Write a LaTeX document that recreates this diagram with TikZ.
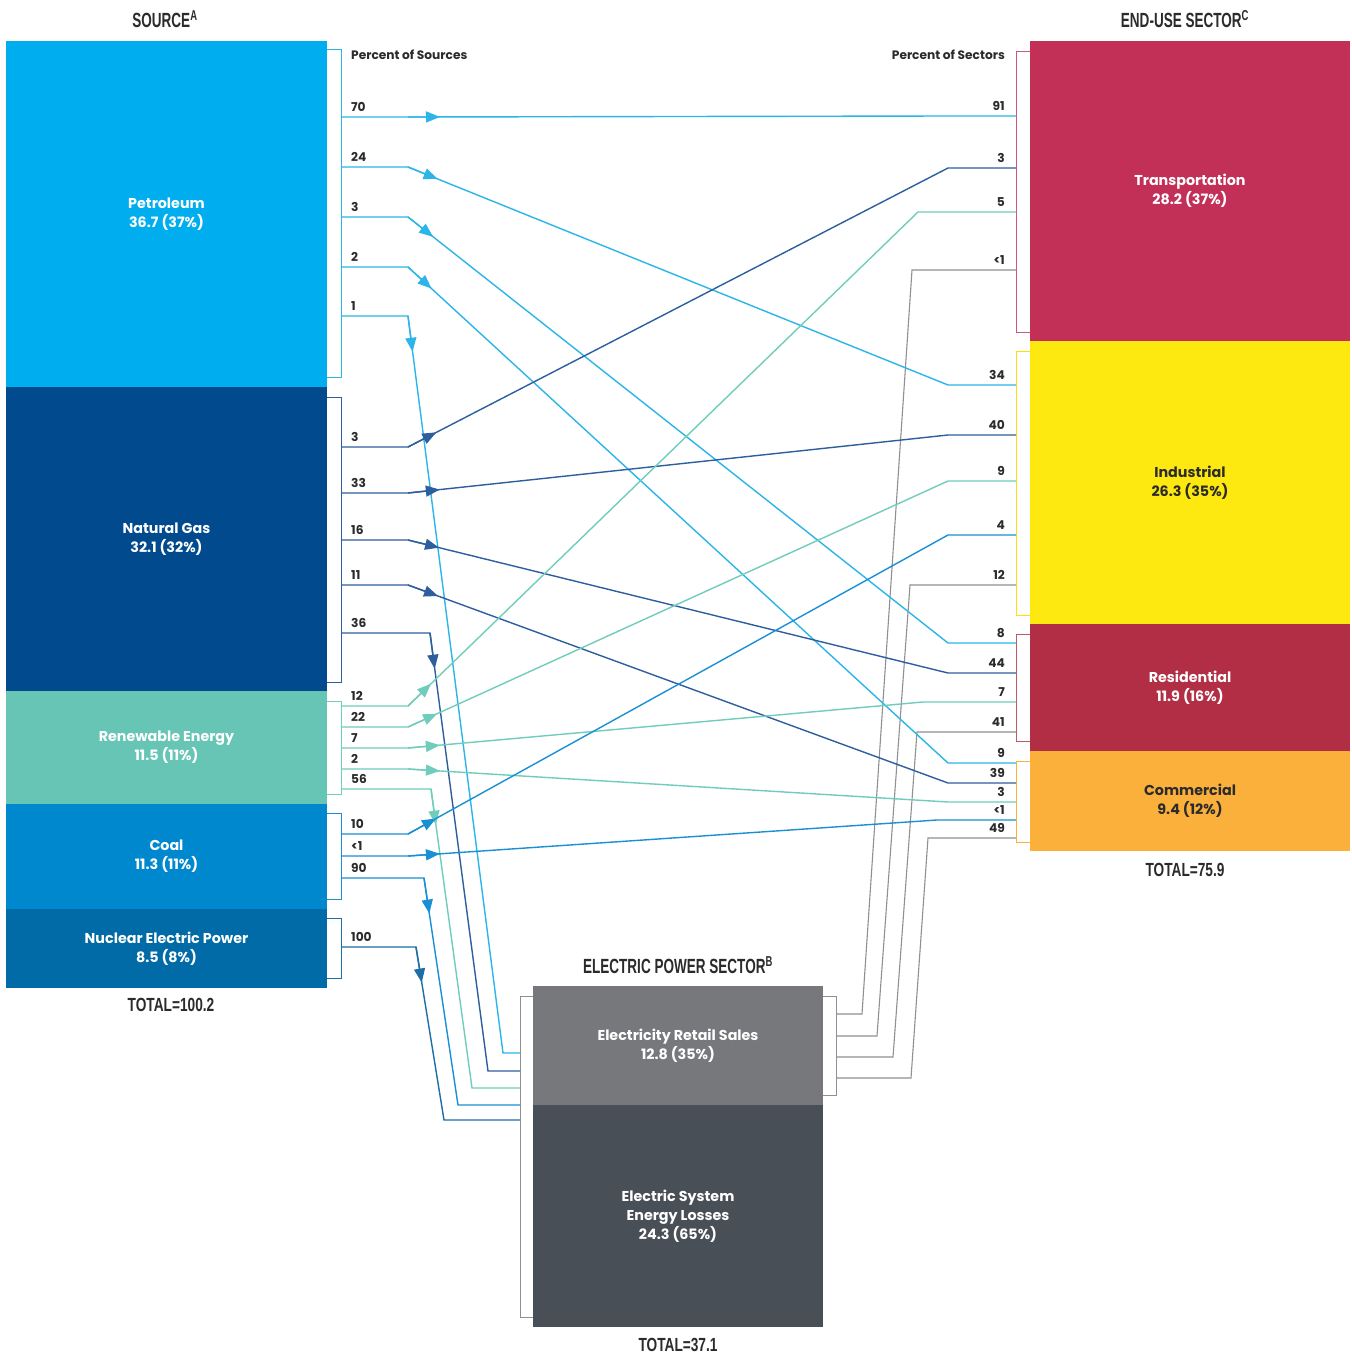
\documentclass[tikz,border=0pt]{standalone}
\usepackage{fontspec}
\setmainfont{Poppins}
\newfontfamily\condfont[FakeStretch=0.66]{Liberation Sans}
\newfontfamily\totfont[FakeStretch=0.72]{Liberation Sans}
\usetikzlibrary{arrows.meta,calc}
\definecolor{cPe}{HTML}{00AEEF}
\definecolor{cNG}{HTML}{004A8D}
\definecolor{cRE}{HTML}{66C5B4}
\definecolor{cCo}{HTML}{0088CF}
\definecolor{cNu}{HTML}{006BA6}
\definecolor{cTr}{HTML}{C22F57}
\definecolor{cIn}{HTML}{FDE80F}
\definecolor{cRs}{HTML}{B12E44}
\definecolor{cCm}{HTML}{FBB03B}
\definecolor{cRt}{HTML}{76787B}
\definecolor{cLs}{HTML}{494F57}
\definecolor{lPe}{HTML}{2BB5E8}
\definecolor{lNG}{HTML}{2D5E9E}
\definecolor{lRE}{HTML}{70CDBB}
\definecolor{lCo}{HTML}{1B8FD3}
\definecolor{lNu}{HTML}{1D6EA6}
\definecolor{lEl}{HTML}{8E9093}
\definecolor{txt}{HTML}{2B2B2B}
\tikzset{
 blk/.style={rectangle, inner sep=0pt, outer sep=0pt, anchor=north west, align=center, text=white, font=\bfseries\fontsize{14.3}{19}\selectfont},
 flw/.style={line width=1.4pt},
 arr/.style={-{Triangle[length=14pt,width=11pt]}},
 numl/.style={font=\bfseries\fontsize{12.2}{13}\selectfont, inner sep=0pt, text=txt},
 brk/.style={line width=0.9pt},
 ttl/.style={font=\condfont\bfseries\fontsize{20.5}{22}\selectfont, text=txt, inner sep=0pt},
 tot/.style={font=\totfont\bfseries\fontsize{19}{21}\selectfont, text=txt, inner sep=0pt},
}
\newcommand\flow[7]{%
  \coordinate (#2s) at (341,#3);
  \coordinate (#2a) at (408,#3);
  \coordinate (#2b) at (#4,#5);
  \coordinate (#2e) at (1016,#5);
  \draw[flw,#1] (#2s) -- (#2a) -- (#2b) -- (#2e);
  \draw[flw,#1,arr] (#2a) -- ($(#2a)!32pt!(#2b)$);
  \node[numl,anchor=base west] at (351,#3-6) {#6};
  \node[numl,anchor=base east] at (1005,#5-6) {#7};
}
\newcommand\down[7]{%
  \coordinate (#2s) at (341,#3);
  \coordinate (#2a) at (#4,#3);
  \coordinate (#2b) at (#6,#5);
  \coordinate (#2e) at (520,#5);
  \draw[flw,#1] (#2s) -- (#2a) -- (#2b) -- (#2e);
  \draw[flw,#1,arr] (#2a) -- ($(#2a)!36pt!(#2b)$);
  \node[numl,anchor=base west] at (351,#3-6) {#7};
}
\newcommand\elec[6]{%
  \coordinate (#1s) at (836,#2);
  \coordinate (#1a) at (#3,#2);
  \coordinate (#1b) at (#4,#5);
  \coordinate (#1e) at (1016,#5);
  \draw[line width=1.1pt,lEl] (#1s) -- (#1a) -- (#1b) -- (#1e);
  \node[numl,anchor=base east] at (1005,#5-6) {#6};
}
\begin{document}
\begin{tikzpicture}[x=1pt,y=-1pt]
\useasboundingbox[fill=white] (0,0) rectangle (1352,1358);
% titles
\node[ttl] (tsrc) at (165,19) {SOURCE\textsuperscript{A}};
\node[ttl] (tend) at (1185,19) {END-USE SECTOR\textsuperscript{C}};
\node[ttl] (teps) at (678,965) {ELECTRIC POWER SECTOR\textsuperscript{B}};
% source blocks
\node[blk,fill=cPe,minimum width=321pt,minimum height=346pt] (petro) at (6,41) {Petroleum\\36.7 (37\%)};
\node[blk,fill=cNG,minimum width=321pt,minimum height=304pt] (ngas) at (6,387) {Natural Gas\\32.1 (32\%)};
\node[blk,fill=cRE,minimum width=321pt,minimum height=113pt] (renew) at (6,691) {Renewable Energy\\11.5 (11\%)};
\node[blk,fill=cCo,minimum width=321pt,minimum height=105pt] (coal) at (6,804) {Coal\\11.3 (11\%)};
\node[blk,fill=cNu,minimum width=321pt,minimum height=79pt] (nuc) at (6,909) {Nuclear Electric Power\\8.5 (8\%)};
\node[tot] (tots) at (171,1005) {TOTAL=100.2};
% end-use blocks
\node[blk,fill=cTr,minimum width=320pt,minimum height=300pt] (trans) at (1030,41) {Transportation\\28.2 (37\%)};
\node[blk,fill=cIn,minimum width=320pt,minimum height=283pt,text=txt] (ind) at (1030,341) {Industrial\\26.3 (35\%)};
\node[blk,fill=cRs,minimum width=320pt,minimum height=127pt] (res) at (1030,624) {Residential\\11.9 (16\%)};
\node[blk,fill=cCm,minimum width=320pt,minimum height=100pt,text=txt] (com) at (1030,751) {Commercial\\9.4 (12\%)};
\node[tot] (tote) at (1185,870) {TOTAL=75.9};
% electric power sector
\node[blk,fill=cRt,minimum width=290pt,minimum height=119pt] (retail) at (533,986) {Electricity Retail Sales\\12.8 (35\%)};
\node[blk,fill=cLs,minimum width=290pt,minimum height=222pt] (loss) at (533,1105) {Electric System\\Energy Losses\\24.3 (65\%)};
\node[tot] (totp) at (678,1345) {TOTAL=37.1};
% brackets
\draw[brk,lPe] (327,49) -- (341,49) -- (341,377) -- (327,377);
\draw[brk,lNG] (327,397) -- (341,397) -- (341,682) -- (327,682);
\draw[brk,lRE] (327,701) -- (341,701) -- (341,794) -- (327,794);
\draw[brk,lCo] (327,813) -- (341,813) -- (341,899) -- (327,899);
\draw[brk,lNu] (327,918) -- (341,918) -- (341,978) -- (327,978);
\draw[brk,cTr!80!white] (1030,51) -- (1016,51) -- (1016,332) -- (1030,332);
\draw[brk,cIn!90!orange] (1030,351) -- (1016,351) -- (1016,615) -- (1030,615);
\draw[brk,cRs!80!white] (1030,634) -- (1016,634) -- (1016,741) -- (1030,741);
\draw[brk,cCm] (1030,761) -- (1016,761) -- (1016,842) -- (1030,842);
\draw[brk,lEl] (533,996) -- (520,996) -- (520,1317) -- (533,1317);
\draw[brk,lEl] (823,996) -- (836,996) -- (836,1095) -- (823,1095);
% headers
\node[numl,anchor=base west] (psrc) at (351,59) {Percent of Sources};
\node[numl,anchor=base east] (psec) at (1005,59) {Percent of Sectors};
% electricity flows
\elec{eT}{1014}{862}{912}{270}{<1}
\elec{eI}{1036}{877}{910}{585}{12}
\elec{eR}{1057}{893}{917}{732}{41}
\elec{eC}{1078}{911}{928}{838}{49}
% petroleum
\flow{lPe}{pT}{117}{948}{116}{70}{91}
\flow{lPe}{pI}{167}{948}{385}{24}{34}
\flow{lPe}{pR}{217}{948}{643}{3}{8}
\flow{lPe}{pC}{267}{948}{763}{2}{9}
\down{lPe}{pE}{316}{408}{1053}{503}{1}
% natural gas
\flow{lNG}{gT}{447}{948}{168}{3}{3}
\flow{lNG}{gI}{493}{948}{435}{33}{40}
\flow{lNG}{gR}{540}{948}{673}{16}{44}
\flow{lNG}{gC}{585}{948}{783}{11}{39}
\down{lNG}{gE}{633}{430}{1071}{488}{36}
% renewable
\flow{lRE}{rT}{706}{918}{212}{12}{5}
\flow{lRE}{rI}{727}{948}{481}{22}{9}
\flow{lRE}{rR}{748}{923}{702}{7}{7}
\flow{lRE}{rC}{769}{948}{802}{2}{3}
\down{lRE}{rE}{789}{431}{1088}{472}{56}
% coal
\flow{lCo}{kI}{834}{948}{535}{10}{4}
\flow{lCo}{kC}{856}{937}{820}{<1}{<1}
\down{lCo}{kE}{878}{424}{1105}{458}{90}
% nuclear
\down{lNu}{nE}{947}{416}{1120}{444}{100}
\end{tikzpicture}
\end{document}
